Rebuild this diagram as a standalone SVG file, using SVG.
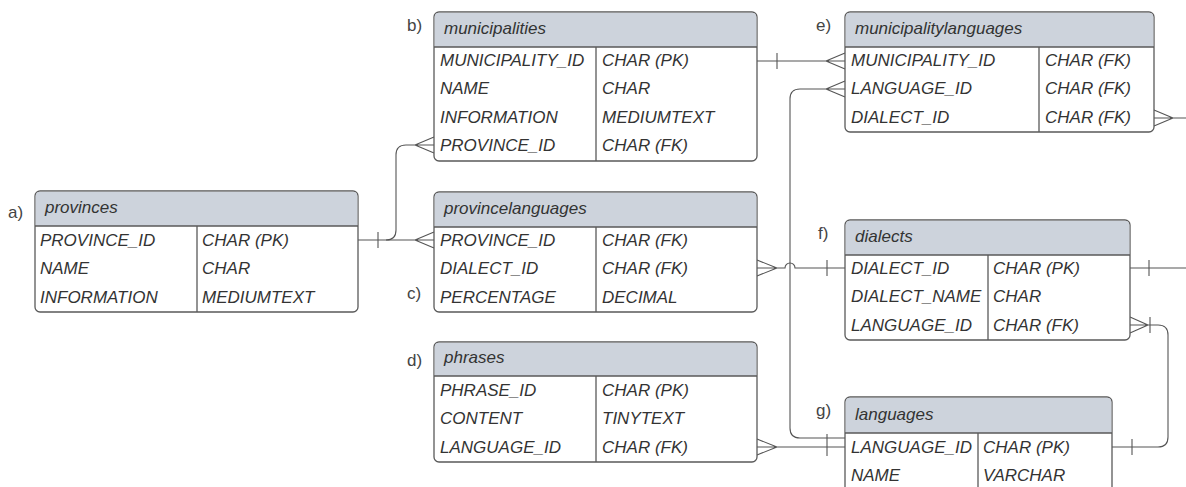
<svg xmlns="http://www.w3.org/2000/svg" width="1186" height="487" viewBox="0 0 1186 487">
<style>
.box{fill:#fff;stroke:#5a5a5a;stroke-width:1.3}
.hdr{fill:#cdd3dc;stroke:none}
.sep{stroke:#5a5a5a;stroke-width:1.3;fill:none}
.t{font-family:"Liberation Sans",Arial,sans-serif;font-style:italic;font-size:17px;fill:#333}
.lbl{font-family:"Liberation Sans",Arial,sans-serif;font-size:17px;fill:#444}
.c{fill:none;stroke:#555;stroke-width:1.1}
</style>
<rect width="1186" height="487" fill="#fff"/>

<g id="connectors">
  <!-- provinces -> provincelanguages -->
  <path class="c" d="M358,240 H434 M378,232 V248 M434,232 L415,240 L434,248"/>
  <!-- provinces -> municipalities -->
  <path class="c" d="M386,240 Q396,240 396,230 V155 Q396,145 406,145 H434 M434,137 L415,145 L434,153"/>
  <!-- municipalities -> municipalitylanguages -->
  <path class="c" d="M757,61 H845 M777,53 V69 M845,53 L826,61 L845,69"/>
  <!-- languages -> municipalitylanguages.LANGUAGE_ID -->
  <path class="c" d="M845,89 H800 Q790,89 790,99 V428 Q790,438 800,438 H845 M845,81 L826,89 L845,97"/>
  <!-- provincelanguages.DIALECT_ID -> dialects -->
  <path class="c" d="M757,268 H785 A5,5 0 0 1 795,268 H845 M757,260 L777,268 L757,276 M827,260 V276"/>
  <!-- dialects PK -> right -->
  <path class="c" d="M1130,268 H1186 M1149,260 V276"/>
  <!-- municipalitylanguages.DIALECT_ID -> right -->
  <path class="c" d="M1154,118 H1186 M1154,110 L1173,118 L1154,126"/>
  <!-- dialects.LANGUAGE_ID -> languages -->
  <path class="c" d="M1130,325 H1158 Q1168,325 1168,335 V437 Q1168,447 1158,447 H1112 M1130,317 L1148,325 L1130,333 M1150,317 V333 M1132,439 V455"/>
  <!-- phrases -> languages -->
  <path class="c" d="M757,447 H845 M757,439 L777,447 L757,455 M827,434 V456"/>
</g>

<g id="provinces">
  <rect class="box" x="35" y="191" width="323" height="121" rx="5"/>
  <path class="hdr" d="M40,191.7 H353 Q357.3,191.7 357.3,196 V226 H35.7 V196 Q35.7,191.7 40,191.7 Z"/>
  <path class="sep" d="M35,226 H358 M197,226 V312"/>
  <text class="t" x="45" y="213">provinces</text>
  <text class="t" x="40" y="246">PROVINCE_ID</text><text class="t" x="202" y="246">CHAR (PK)</text>
  <text class="t" x="40" y="274">NAME</text><text class="t" x="202" y="274">CHAR</text>
  <text class="t" x="40" y="303">INFORMATION</text><text class="t" x="202" y="303">MEDIUMTEXT</text>
  <text class="lbl" x="8" y="218">a)</text>
</g>

<g id="municipalities">
  <rect class="box" x="434" y="12" width="323" height="149" rx="5"/>
  <path class="hdr" d="M439,12.7 H752 Q756.3,12.7 756.3,17 V47 H434.7 V17 Q434.7,12.7 439,12.7 Z"/>
  <path class="sep" d="M434,47 H757 M596,47 V161"/>
  <text class="t" x="444" y="34">municipalities</text>
  <text class="t" x="440" y="66">MUNICIPALITY_ID</text><text class="t" x="602" y="66">CHAR (PK)</text>
  <text class="t" x="440" y="94">NAME</text><text class="t" x="602" y="94">CHAR</text>
  <text class="t" x="440" y="123">INFORMATION</text><text class="t" x="602" y="123">MEDIUMTEXT</text>
  <text class="t" x="440" y="151">PROVINCE_ID</text><text class="t" x="602" y="151">CHAR (FK)</text>
  <text class="lbl" x="407" y="31">b)</text>
</g>

<g id="provincelanguages">
  <rect class="box" x="434" y="192" width="323" height="120" rx="5"/>
  <path class="hdr" d="M439,192.7 H752 Q756.3,192.7 756.3,197 V227 H434.7 V197 Q434.7,192.7 439,192.7 Z"/>
  <path class="sep" d="M434,227 H757 M596,227 V312"/>
  <text class="t" x="444" y="214">provincelanguages</text>
  <text class="t" x="440" y="246">PROVINCE_ID</text><text class="t" x="602" y="246">CHAR (FK)</text>
  <text class="t" x="440" y="274">DIALECT_ID</text><text class="t" x="602" y="274">CHAR (FK)</text>
  <text class="t" x="440" y="303">PERCENTAGE</text><text class="t" x="602" y="303">DECIMAL</text>
  <text class="lbl" x="407" y="299">c)</text>
</g>

<g id="phrases">
  <rect class="box" x="434" y="342" width="323" height="120" rx="5"/>
  <path class="hdr" d="M439,342.7 H752 Q756.3,342.7 756.3,347 V376 H434.7 V347 Q434.7,342.7 439,342.7 Z"/>
  <path class="sep" d="M434,376 H757 M596,376 V462"/>
  <text class="t" x="444" y="363">phrases</text>
  <text class="t" x="440" y="396">PHRASE_ID</text><text class="t" x="602" y="396">CHAR (PK)</text>
  <text class="t" x="440" y="424">CONTENT</text><text class="t" x="602" y="424">TINYTEXT</text>
  <text class="t" x="440" y="453">LANGUAGE_ID</text><text class="t" x="602" y="453">CHAR (FK)</text>
  <text class="lbl" x="407" y="366">d)</text>
</g>

<g id="municipalitylanguages">
  <rect class="box" x="845" y="12" width="309" height="120" rx="5"/>
  <path class="hdr" d="M850,12.7 H1149 Q1153.3,12.7 1153.3,17 V47 H845.7 V17 Q845.7,12.7 850,12.7 Z"/>
  <path class="sep" d="M845,47 H1154 M1039,47 V132"/>
  <text class="t" x="855" y="34">municipalitylanguages</text>
  <text class="t" x="851" y="66">MUNICIPALITY_ID</text><text class="t" x="1045" y="66">CHAR (FK)</text>
  <text class="t" x="851" y="94">LANGUAGE_ID</text><text class="t" x="1045" y="94">CHAR (FK)</text>
  <text class="t" x="851" y="123">DIALECT_ID</text><text class="t" x="1045" y="123">CHAR (FK)</text>
  <text class="lbl" x="816" y="31">e)</text>
</g>

<g id="dialects">
  <rect class="box" x="845" y="220" width="285" height="120" rx="5"/>
  <path class="hdr" d="M850,220.7 H1125 Q1129.3,220.7 1129.3,225 V255 H845.7 V225 Q845.7,220.7 850,220.7 Z"/>
  <path class="sep" d="M845,255 H1130 M988,255 V340"/>
  <text class="t" x="855" y="242">dialects</text>
  <text class="t" x="851" y="274">DIALECT_ID</text><text class="t" x="993" y="274">CHAR (PK)</text>
  <text class="t" x="851" y="302">DIALECT_NAME</text><text class="t" x="993" y="302">CHAR</text>
  <text class="t" x="851" y="331">LANGUAGE_ID</text><text class="t" x="993" y="331">CHAR (FK)</text>
  <text class="lbl" x="818" y="239">f)</text>
</g>

<g id="languages">
  <rect class="box" x="845" y="397" width="267" height="130" rx="5"/>
  <path class="hdr" d="M850,397.7 H1107 Q1111.3,397.7 1111.3,402 V433 H845.7 V402 Q845.7,397.7 850,397.7 Z"/>
  <path class="sep" d="M845,433 H1112 M978,433 V527"/>
  <text class="t" x="855" y="420">languages</text>
  <text class="t" x="851" y="453">LANGUAGE_ID</text><text class="t" x="983" y="453">CHAR (PK)</text>
  <text class="t" x="851" y="481">NAME</text><text class="t" x="983" y="481">VARCHAR</text>
  <text class="lbl" x="816" y="416">g)</text>
</g>
</svg>
